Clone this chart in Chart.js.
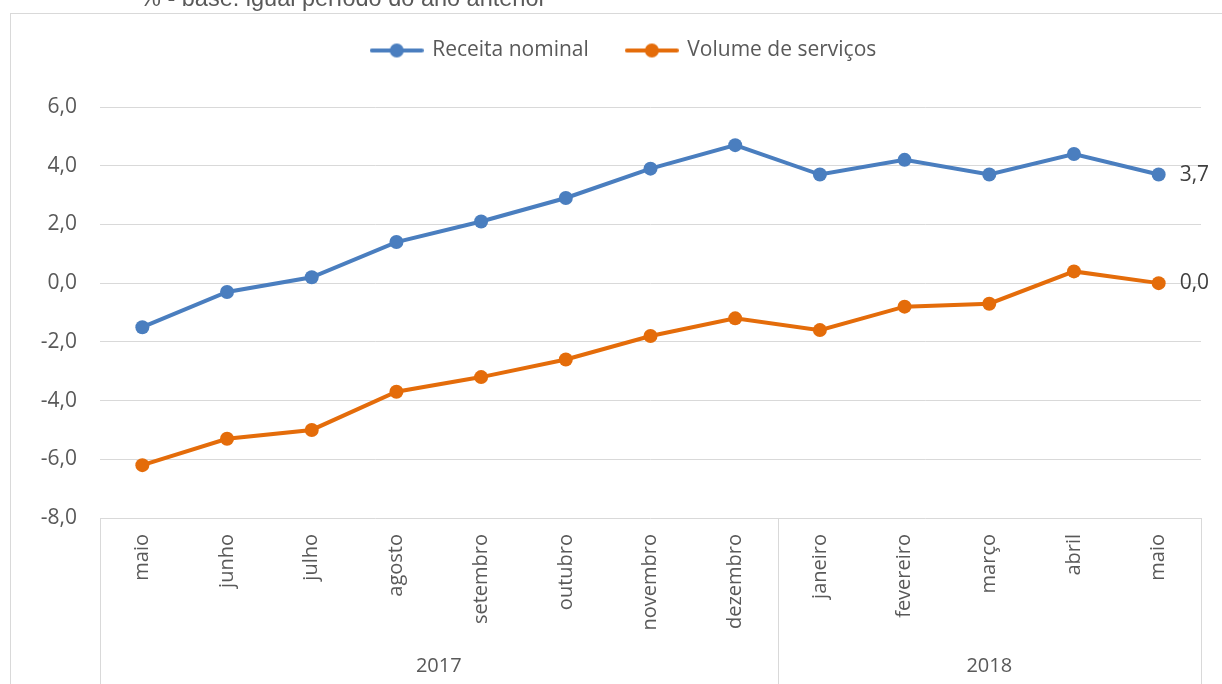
<!DOCTYPE html>
<html><head><meta charset="utf-8">
<script src="https://cdn.jsdelivr.net/npm/chart.js@4.4.1/dist/chart.umd.min.js"></script>
<style>html,body{margin:0;padding:0;background:#fff;overflow:hidden}#wrap{width:1222px;height:684px;position:relative}</style>
</head><body><div id="wrap"><canvas id="c" width="1222" height="684"></canvas></div>
<script>
const months = ['maio','junho','julho','agosto','setembro','outubro','novembro','dezembro','janeiro','fevereiro','março','abril','maio'];
const years = ['2017','2018'];
const monthsPerYear = [8, 5];
const receitaNominal = [-1.5,-0.3,0.2,1.4,2.1,2.9,3.9,4.7,3.7,4.2,3.7,4.4,3.7];
const volumeServicos = [-6.2,-5.3,-5.0,-3.7,-3.2,-2.6,-1.8,-1.2,-1.6,-0.8,-0.7,0.4,0.0];
const seriesNames = ['Receita nominal','Volume de serviços'];
const yMin = -8, yMax = 6, yStep = 2;
const headerText = '% - base: igual período do ano anterior';

const BLUE = '#4A7EBF', ORANGE = '#E46C0A', TXT = '#595959', GRID = '#D9D9D9';
const FONT = "'Open Sans', sans-serif";
const fmt = v => v.toFixed(1).replace('.', ',');

function legendMarker(color){
  const c = document.createElement('canvas'); c.width = 54; c.height = 16;
  const g = c.getContext('2d');
  g.strokeStyle = color; g.lineWidth = 4; g.lineCap = 'round';
  g.beginPath(); g.moveTo(2, 8); g.lineTo(52, 8); g.stroke();
  g.fillStyle = color; g.beginPath(); g.arc(27, 8, 7, 0, Math.PI*2); g.fill();
  return c;
}
const markers = [legendMarker(BLUE), legendMarker(ORANGE)];

const decor = {
  id: 'decor',
  afterLayout(chart){
    if (chart.legend) { chart.legend.left = 47; }
  },
  beforeDraw(chart){
    const ctx = chart.ctx;
    ctx.save();
    ctx.fillStyle = '#fff'; ctx.fillRect(0,0,chart.width,chart.height);
    ctx.strokeStyle = GRID; ctx.lineWidth = 1;
    ctx.strokeRect(10.5, 13.5, 1400, 800);
    ctx.fillStyle = TXT; ctx.font = "23.5px 'Liberation Sans', Arial, sans-serif";
    ctx.textBaseline = 'alphabetic'; ctx.textAlign = 'left';
    ctx.fillText(headerText, 140, 6);
    ctx.restore();
  },
  afterDatasetsDraw(chart){
    const ctx = chart.ctx;
    ctx.save();
    ctx.font = "21px " + FONT; ctx.fillStyle = '#404040';
    ctx.textBaseline = 'middle'; ctx.textAlign = 'left';
    chart.data.datasets.forEach((ds, i) => {
      const meta = chart.getDatasetMeta(i);
      const last = meta.data[meta.data.length - 1];
      ctx.fillText(fmt(ds.data[ds.data.length - 1]), last.x + 21, last.y);
    });
    ctx.restore();
  },
  afterDraw(chart){
    const ctx = chart.ctx, xs = chart.scales.x, area = chart.chartArea;
    const half = (xs.getPixelForValue(1) - xs.getPixelForValue(0)) / 2;
    ctx.save();
    ctx.strokeStyle = GRID; ctx.lineWidth = 1;
    ctx.fillStyle = TXT; ctx.font = "20px " + FONT;
    ctx.textAlign = 'center'; ctx.textBaseline = 'middle';
    let start = 0;
    let sx = xs.getPixelForValue(0) - half;
    ctx.beginPath(); ctx.moveTo(Math.round(sx)+0.5, area.bottom); ctx.lineTo(Math.round(sx)+0.5, chart.height); ctx.stroke();
    years.forEach((y, i) => {
      const end = start + monthsPerYear[i];
      const ex = xs.getPixelForValue(end - 1) + half;
      ctx.beginPath(); ctx.moveTo(Math.round(ex)+0.5, area.bottom); ctx.lineTo(Math.round(ex)+0.5, chart.height); ctx.stroke();
      ctx.fillText(y, (sx + ex) / 2, 666);
      sx = ex; start = end;
    });
    ctx.restore();
  }
};

new Chart(document.getElementById('c'), {
  type: 'line',
  data: {
    labels: months,
    datasets: [
      {label: seriesNames[0], data: receitaNominal, borderColor: BLUE, backgroundColor: BLUE, borderWidth: 4, pointRadius: 7, pointHoverRadius: 7, pointBorderWidth: 0, tension: 0},
      {label: seriesNames[1], data: volumeServicos, borderColor: ORANGE, backgroundColor: ORANGE, borderWidth: 4, pointRadius: 7, pointHoverRadius: 7, pointBorderWidth: 0, tension: 0}
    ]
  },
  options: {
    responsive: false, animation: false, devicePixelRatio: 1,
    layout: {padding: {left: 10, right: 21, top: 2, bottom: 0}},
    font: {family: FONT},
    plugins: {
      tooltip: {enabled: false},
      title: {display: true, text: '', font: {size: 10, lineHeight: 1}, padding: {top: 0, bottom: 26}},
      legend: {
        display: true, position: 'top', weight: 3000,
        labels: {
          usePointStyle: true, pointStyleWidth: 50, padding: 38,
          color: TXT, font: {family: FONT, size: 21},
          generateLabels(chart){
            const items = Chart.defaults.plugins.legend.labels.generateLabels(chart);
            items.forEach((it, i) => { it.pointStyle = markers[i]; });
            return items;
          }
        }
      }
    },
    scales: {
      x: {
        offset: true,
        grid: {display: false, drawTicks: false},
        border: {display: false},
        ticks: {autoSkip: false, minRotation: 90, maxRotation: 90, padding: 16, color: TXT, font: {family: FONT, size: 20}},
        afterFit(s){ s.height = 166; }
      },
      y: {
        min: yMin, max: yMax,
        grid: {color: GRID, drawTicks: false, lineWidth: 1},
        border: {display: false},
        ticks: {stepSize: yStep, padding: 23, color: TXT, font: {family: FONT, size: 21}, callback: v => fmt(v)},
        afterFit(s){ s.width = 90; }
      }
    }
  },
  plugins: [decor]
});
</script></body></html>
